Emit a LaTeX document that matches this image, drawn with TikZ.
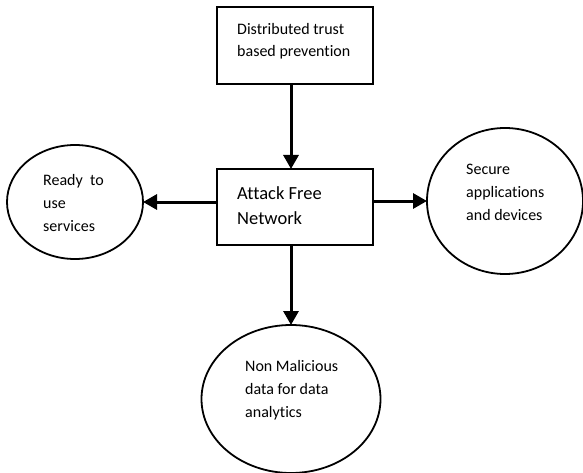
\documentclass[tikz,border=0pt]{standalone}
\usepackage{fontspec}
\setmainfont[Ligatures=NoCommon]{Carlito}
\usetikzlibrary{arrows.meta,shapes.geometric}
\begin{document}
\begin{tikzpicture}[x=1pt,y=-1pt,
  boxnode/.style={draw,line width=1.8pt,rectangle,inner sep=0pt,outer sep=0pt,minimum width=156pt},
  ellnode/.style={draw,line width=1.8pt,ellipse,inner sep=0pt,outer sep=0pt},
  txt/.style={anchor=base west,align=left,inner sep=0pt,font=\fontsize{16}{22.7}\selectfont},
  bigtxt/.style={anchor=base west,align=left,inner sep=0pt,font=\fontsize{18.5}{25}\selectfont},
  arr/.style={line width=3pt,-{Triangle[width=15pt,length=14pt]}}]
\useasboundingbox (0,0) rectangle (583,473);
\node[boxnode,minimum height=77pt] (top) at (295,45.5) {};
\node[boxnode,minimum height=76pt] (mid) at (295,207) {};
\node[ellnode,minimum width=136pt,minimum height=114pt] (left) at (75,202) {};
\node[ellnode,minimum width=156pt,minimum height=146pt] (right) at (505,201) {};
\node[ellnode,minimum width=179pt,minimum height=148pt] (bot) at (291,399) {};
\node[txt] (ttop) at (237,57) {Distributed trust\\based prevention};
\node[bigtxt] (tmid) at (237,224) {Attack Free\\Network};
\node[txt] (tleft) at (43,231) {Ready \ to\\use\\services};
\node[txt] (tright) at (466,220) {Secure\\applications\\and devices};
\node[txt] (tbot) at (245,417) {Non Malicious\\data for data\\analytics};
\draw[arr] ([xshift=-4pt]top.south) -- ([xshift=-4pt]mid.north);
\draw[arr] ([yshift=5pt]mid.west) -- (left.east);
\draw[arr] ([yshift=6pt]mid.east) -- (right.west);
\draw[arr] ([xshift=-4pt]mid.south) -- (bot.north);
\end{tikzpicture}
\end{document}
